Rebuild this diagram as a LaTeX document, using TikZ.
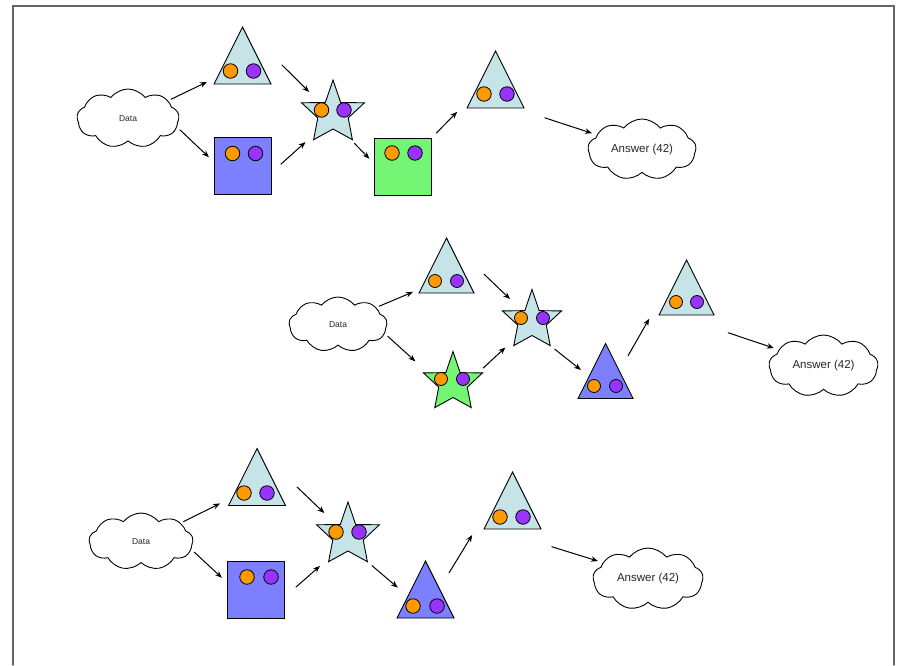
\documentclass[tikz,border=0pt]{standalone}
\usepackage{fontspec}
\setmainfont{Liberation Sans}
\usetikzlibrary{shapes.geometric,shapes.symbols,arrows.meta}

\definecolor{paleteal}{RGB}{198,228,231}
\definecolor{boxblue}{RGB}{124,128,255}
\definecolor{boxgreen}{RGB}{116,246,116}
\definecolor{pegorange}{RGB}{255,153,0}
\definecolor{pegpurple}{RGB}{153,51,255}
\definecolor{framegray}{RGB}{100,100,100}

\newcommand{\datafont}{\fontsize{8.5}{10}\selectfont}
\newcommand{\answerfont}{\fontsize{11.5}{13}\selectfont}

\begin{document}
\begin{tikzpicture}[x=1pt, y=-1pt, line cap=round, >={Stealth[length=7pt,width=5.5pt]}]

	% styles (1 unit = 1 pixel of the sketch, y downwards)
	\tikzset{
		holder/.style={inner sep=0pt, outer sep=0pt, minimum size=#1},
		box/.style={draw, line width=0.9pt, inner sep=0pt, outer sep=0pt, minimum size=#1},
		starry/.style={star, star points=5, star point ratio=2.618,
			inner sep=0pt, outer sep=0pt, minimum size=#1},
		peg/.style={circle, draw, line width=0.8pt, inner sep=0pt, minimum size=#1},
		cloudy/.style={cloud, cloud puffs=9, cloud puff arc=105, cloud ignores aspect,
			draw, line width=0.9pt, inner sep=0pt, text=black!85},
		arr/.style={->, line width=1pt},
		frame/.style={draw=framegray, line width=1.3pt}
	}

	% triangle = invisible square holder + drawn outline
	\newcommand{\tri}[5]{% name, x, y, size, fill
		\node[holder=#4] (#1) at (#2,#3) {};
		\draw[line width=0.9pt, fill=#5] (#1.south west) -- (#1.north) -- (#1.south east) -- cycle;
	}
	% star = star holder + drawn outline (outer R, upper inner r, lower inner r)
	\newcommand{\pentastar}[7]{% name, x, y, R, r upper, r lower, fill
		\node[starry=2*#4 pt] (#1) at (#2,#3) {};
		\draw[line width=0.9pt, fill=#7]
			([shift={(-90:#4)}]#1.center) -- ([shift={(-54:#5)}]#1.center)
			-- ([shift={(-18:#4)}]#1.center) -- ([shift={(18:#6)}]#1.center)
			-- ([shift={(54:#4)}]#1.center) -- ([shift={(90:#6)}]#1.center)
			-- ([shift={(126:#4)}]#1.center) -- ([shift={(162:#6)}]#1.center)
			-- ([shift={(198:#4)}]#1.center) -- ([shift={(234:#5)}]#1.center) -- cycle;
	}
	% the two little circles inside every shape
	\newcommand{\pegs}[5]{% node, left dx, right dx, dy, size
		\node[peg=#5, fill=pegorange] (#1o) at ([shift={(#2,#4)}]#1.center) {};
		\node[peg=#5, fill=pegpurple] (#1p) at ([shift={(#3,#4)}]#1.center) {};
	}

	\useasboundingbox (0,0) rectangle (907,665);
	\path[frame] (13,665) -- (13,6) -- (894,6) -- (894,665);

	% ----------------------------------------------------
	% first row
	% ----------------------------------------------------
	\node[cloudy, minimum width=102pt, minimum height=59pt, font=\datafont] (d1) at (128,118.5) {Data};
	\tri{t1}{242.5}{55.5}{57pt}{paleteal}
	\node[box=57pt, fill=boxblue] (s1) at (242.5,166) {};
	\pentastar{st1}{333}{113}{33}{13}{16}{paleteal}
	\node[box=57pt, fill=boxgreen] (g1) at (403,166.5) {};
	\tri{t2}{495.5}{79.5}{57pt}{paleteal}
	\node[cloudy, minimum width=108pt, minimum height=61pt, font=\answerfont] (a1) at (642,149.5) {Answer (42)};

	\pegs{t1}{-12}{11}{15.5}{14.5pt}
	\pegs{s1}{-10}{13}{-12.5}{14.5pt}
	\pegs{st1}{-11.5}{11}{-3}{14.5pt}
	\pegs{g1}{-11}{12}{-13.5}{14.5pt}
	\pegs{t2}{-11.5}{11.5}{14.5}{14.5pt}

	\draw[arr, shorten <=3pt, shorten >=7.8pt] (d1.24) -- (t1.219);
	\draw[arr, shorten <=4pt, shorten >=7pt] (d1.350.4) -- (s1.172);
	\draw[arr, shorten <=15.6pt, shorten >=15.3pt] (t1.3) -- (st1.142.3);
	\draw[arr, shorten <=13.3pt, shorten >=14pt] (s1.346.6) -- (st1.229.9);
	\draw[arr, shorten <=10.2pt, shorten >=7.3pt] (st1.302.6) -- (g1.175.7);
	\draw[arr, shorten <=7.1pt, shorten >=14.1pt] (g1.45.5) -- (t2.218.3);
	\draw[arr, shorten <=31.6pt, shorten >=5pt] (t2.304.4) -- (a1.162.4);

	% ----------------------------------------------------
	% second row
	% ----------------------------------------------------
	\node[cloudy, minimum width=98pt, minimum height=55pt, font=\datafont] (d2) at (338,324.5) {Data};
	\tri{t3}{446.5}{265.5}{55pt}{paleteal}
	\pentastar{gs}{453}{382.5}{31}{12.2}{15}{boxgreen}
	\pentastar{st2}{532}{320.5}{31}{12.2}{15}{paleteal}
	\tri{bt}{605.5}{371}{55pt}{boxblue}
	\tri{t4}{686.5}{287.5}{55pt}{paleteal}
	\node[cloudy, minimum width=109pt, minimum height=62pt, font=\answerfont] (a2) at (823.5,366) {Answer (42)};

	\pegs{t3}{-11.5}{10.5}{15.5}{13pt}
	\pegs{gs}{-12}{10}{-3.5}{13pt}
	\pegs{st2}{-11}{11}{-2.5}{13pt}
	\pegs{bt}{-11.5}{10.5}{15}{13pt}
	\pegs{t4}{-10.5}{10.5}{14.5}{13pt}

	\draw[arr, shorten <=3pt, shorten >=6.5pt] (d2.24.2) -- (t3.221.1);
	\draw[arr, shorten <=4pt, shorten >=17.2pt] (d2.349.7) -- (gs.159.5);
	\draw[arr, shorten <=13.9pt, shorten >=17.2pt] (t3.2.3) -- (st2.135.1);
	\draw[arr, shorten <=7.3pt, shorten >=15.3pt] (gs.21.3) -- (st2.227.7);
	\draw[arr, shorten <=5.7pt, shorten >=-3.7pt] (st2.306) -- (bt.173.4);
	\draw[arr, shorten <=-9.9pt, shorten >=19.8pt] (bt.41.7) -- (t4.207.6);
	\draw[arr, shorten <=55.7pt, shorten >=5pt] (t4.248) -- (a2.160.8);

	% ----------------------------------------------------
	% third row
	% ----------------------------------------------------
	\node[cloudy, minimum width=104pt, minimum height=57pt, font=\datafont] (d3) at (141,541.5) {Data};
	\tri{t5}{257}{477}{57pt}{paleteal}
	\node[box=57pt, fill=boxblue] (s2) at (256,589.5) {};
	\pentastar{st3}{348}{535}{33}{13}{16}{paleteal}
	\tri{bt2}{425.5}{589.5}{57pt}{boxblue}
	\tri{t6}{512.5}{500.5}{57pt}{paleteal}
	\node[cloudy, minimum width=110pt, minimum height=62pt, font=\answerfont] (a3) at (648,579) {Answer (42)};

	\pegs{t5}{-13}{10}{16}{14.5pt}
	\pegs{s2}{-9}{15}{-12.5}{14.5pt}
	\pegs{st3}{-12}{11}{-3}{14.5pt}
	\pegs{bt2}{-12.5}{11.5}{16.5}{14.5pt}
	\pegs{t6}{-12.5}{10.5}{16.5}{14.5pt}

	\draw[arr, shorten <=3pt, shorten >=9.4pt] (d3.25.1) -- (t5.218.8);
	\draw[arr, shorten <=4pt, shorten >=7.6pt] (d3.351.4) -- (s2.167.7);
	\draw[arr, shorten <=16pt, shorten >=17pt] (t5.2.2) -- (st3.138.9);
	\draw[arr, shorten <=15.3pt, shorten >=13.4pt] (s2.345.1) -- (st3.231.1);
	\draw[arr, shorten <=6pt, shorten >=-1pt] (st3.306) -- (bt2.175.6);
	\draw[arr, shorten <=-9.5pt, shorten >=22.7pt] (bt2.41.9) -- (t6.208.1);
	\draw[arr, shorten <=59.8pt, shorten >=5pt] (t6.238.3) -- (a3.160.8);

\end{tikzpicture}
\end{document}
